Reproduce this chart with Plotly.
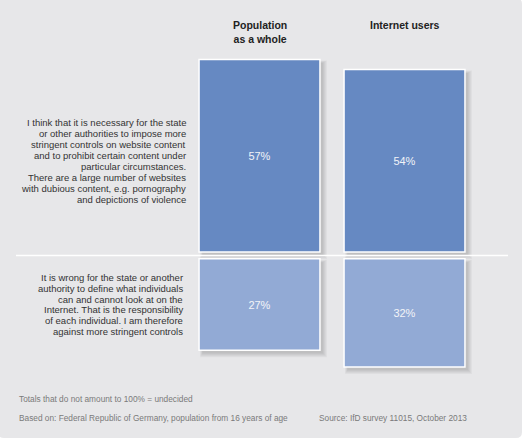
import plotly.graph_objects as go

# survey groups (column headers)
groups = ['Population<br>as a whole', 'Internet users']

# statements shown on the left, one list of lines per statement
statements = [
    ['I think that it is necessary for the state',
     'or other authorities to impose more',
     'stringent controls on website content',
     'and to prohibit certain content under',
     'particular circumstances.',
     'There are a large number of websites',
     'with dubious content, e.g. pornography',
     'and depictions of violence'],
    ['It is wrong for the state or another',
     'authority to define what individuals',
     'can and cannot look at on the',
     'Internet. That is the responsibility',
     'of each individual. I am therefore',
     'against more stringent controls'],
]

# percentages
pro_controls = [57, 54]
against_controls = [27, 32]

note = 'Totals that do not amount to 100% = undecided'
basis = 'Based on: Federal Republic of Germany, population from 16 years of age'
source = 'Source: IfD survey 11015, October 2013'

FONT = 'Liberation Sans, Arial, sans-serif'
BG = '#e7e7e9'
GAP = 1  # space between the divider line and the bars
BAR_W = 0.834
W, H = 525, 440
ML, MR, MT, MB = 187, 48, 10, 10


def px_x(p):
    # pixel -> paper x
    return (p - ML) / (W - ML - MR)


def px_y(p):
    # pixel -> paper y
    return (H - MB - p) / (H - MT - MB)


fig = go.Figure()

fig.add_trace(go.Bar(
    x=groups, y=pro_controls, base=GAP, width=BAR_W,
    marker=dict(color='#6689c2', line=dict(color='white', width=1.5)),
    text=[f'{v}%' for v in pro_controls], textposition='inside',
    insidetextanchor='middle',
    textfont=dict(family=FONT, size=11, color='#f2f4f8'),
    hoverinfo='skip'))

fig.add_trace(go.Bar(
    x=groups, y=[-v for v in against_controls], base=-GAP, width=BAR_W,
    marker=dict(color='#92aad5', line=dict(color='white', width=1.5)),
    text=[f'{v}%' for v in against_controls], textposition='inside',
    insidetextanchor='middle',
    textfont=dict(family=FONT, size=11, color='#f2f4f8'),
    hoverinfo='skip'))

shapes = []

# grey panel with rounded corners (top-left is square)
r = 6
x0, x1 = px_x(-2), px_x(522)
y0, y1 = px_y(-2), px_y(438)
rx = r / (W - ML - MR)
ry = r / (H - MT - MB)
panel = (f'M {x0},{y0} L {x1 - rx},{y0} Q {x1},{y0} {x1},{y0 - ry} '
         f'L {x1},{y1 + ry} Q {x1},{y1} {x1 - rx},{y1} '
         f'L {x0 + rx},{y1} Q {x0},{y1} {x0},{y1 + ry} Z')
shapes.append(dict(type='path', path=panel, xref='paper', yref='paper',
                   layer='below', fillcolor=BG, line=dict(width=0)))

# soft drop shadows behind the bars
px = 1 / 145.0  # one pixel in category units
py = 1 / 3.38   # one pixel in value units
for i in range(len(groups)):
    for lo, hi in [(GAP, GAP + pro_controls[i]),
                   (-GAP - against_controls[i], -GAP)]:
        for k in range(1, 6):
            shapes.append(dict(
                type='rect', layer='below', xref='x', yref='y',
                x0=i - BAR_W / 2 + (4 - k * 0.6) * px,
                x1=i + BAR_W / 2 + (2 + k) * px,
                y0=lo - (2 + k) * py, y1=hi - (4 - k * 0.6) * py,
                fillcolor='rgba(0,0,0,0.035)', line=dict(width=0)))

# white divider between the two statements
shapes.append(dict(type='line', xref='paper', yref='y', x0=px_x(16),
                   x1=px_x(508), y0=0, y1=0,
                   line=dict(color='white', width=1.5)))

annotations = []
for g in groups:
    annotations.append(dict(
        x=g, y=70.5, xref='x', yref='y', text=f'<b>{g}</b>', showarrow=False,
        yanchor='top', xanchor='center', align='center',
        font=dict(family=FONT, size=10.5, color='#222222')))

# statement text, line by line, right aligned next to the bars
for lines, yc, xr in [(statements[0], 28.0, 188),
                      (statements[1], -14.5, 185)]:
    n = len(lines)
    for j, line in enumerate(lines):
        annotations.append(dict(
            x=px_x(xr), y=yc, xref='paper', yref='y', text=line,
            showarrow=False, xanchor='right', yanchor='middle',
            yshift=-(j - (n - 1) / 2) * 10.9,
            font=dict(family=FONT, size=9.5, color='#333333')))

for txt, x, y in [(note, 17, 399), (basis, 17, 418), (source, 317, 418)]:
    annotations.append(dict(
        x=px_x(x), y=px_y(y), xref='paper', yref='paper', text=txt,
        showarrow=False, xanchor='left', yanchor='middle',
        font=dict(family=FONT, size=8.3, color='#7a7a7a')))

fig.update_layout(
    width=W, height=H,
    margin=dict(l=ML, r=MR, t=MT, b=MB),
    paper_bgcolor='white', plot_bgcolor='rgba(0,0,0,0)',
    barmode='overlay', showlegend=False,
    xaxis=dict(visible=False, range=[-0.5, 1.5]),
    yaxis=dict(visible=False, range=[-51.63, 72.63]),
    shapes=shapes, annotations=annotations,
)

fig.write_html('out.html', config={'displayModeBar': False},
               post_script="document.body.style.margin='0';")
